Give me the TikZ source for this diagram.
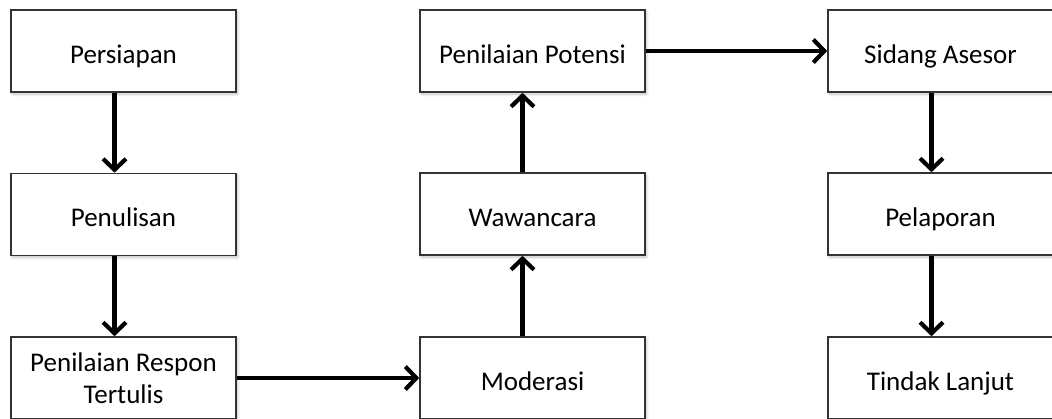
\documentclass[tikz,border=0pt]{standalone}
\usepackage{fontspec}
\setmainfont{Carlito}
\usetikzlibrary{arrows.meta,shadows.blur}
\begin{document}
\begin{tikzpicture}[x=1pt,y=-1pt,
  stepbox/.style={draw=black!80, line width=1.6pt, fill=white, minimum width=225pt, minimum height=82pt,
     inner sep=0pt, align=center, font=\fontsize{27}{32}\selectfont, text=black,
     blur shadow={shadow xshift=1.5pt, shadow yshift=-2pt, shadow blur steps=6, shadow blur radius=3pt, shadow opacity=25}},
  onebox/.style={stepbox, text height=24pt, text depth=0pt},
  flow/.style={line width=4.2pt, black, -{Straight Barb[length=11pt,width=23pt,line width=4.2pt]}}]
\useasboundingbox (0,0) rectangle (1052,418);
\clip (0,0) rectangle (1052,418);
\node[onebox] (a) at (123.5,51) {Persiapan};
\node[onebox] (b) at (123.5,214.5) {Penulisan};
\node[stepbox] (c) at (123.5,378) {Penilaian Respon\\Tertulis};
\node[onebox] (d) at (532.5,378) {Moderasi};
\node[onebox] (e) at (532.5,214) {Wawancara};
\node[onebox] (f) at (532.5,51) {Penilaian Potensi};
\node[onebox] (g) at (940.5,51) {Sidang Asesor};
\node[onebox] (h) at (940.5,214) {Pelaporan};
\node[onebox] (i) at (940.5,378) {Tindak Lanjut};
\draw[flow] ([xshift=-9pt]a.south) -- ([xshift=-9pt]b.north);
\draw[flow] ([xshift=-9pt]b.south) -- ([xshift=-9pt]c.north);
\draw[flow] (c.east) -- (d.west);
\draw[flow] ([xshift=-10pt]d.north) -- ([xshift=-10pt]e.south);
\draw[flow] ([xshift=-10pt]e.north) -- ([xshift=-10pt]f.south);
\draw[flow] (f.east) -- (g.west);
\draw[flow] ([xshift=-9pt]g.south) -- ([xshift=-9pt]h.north);
\draw[flow] ([xshift=-9pt]h.south) -- ([xshift=-9pt]i.north);
\end{tikzpicture}
\end{document}
